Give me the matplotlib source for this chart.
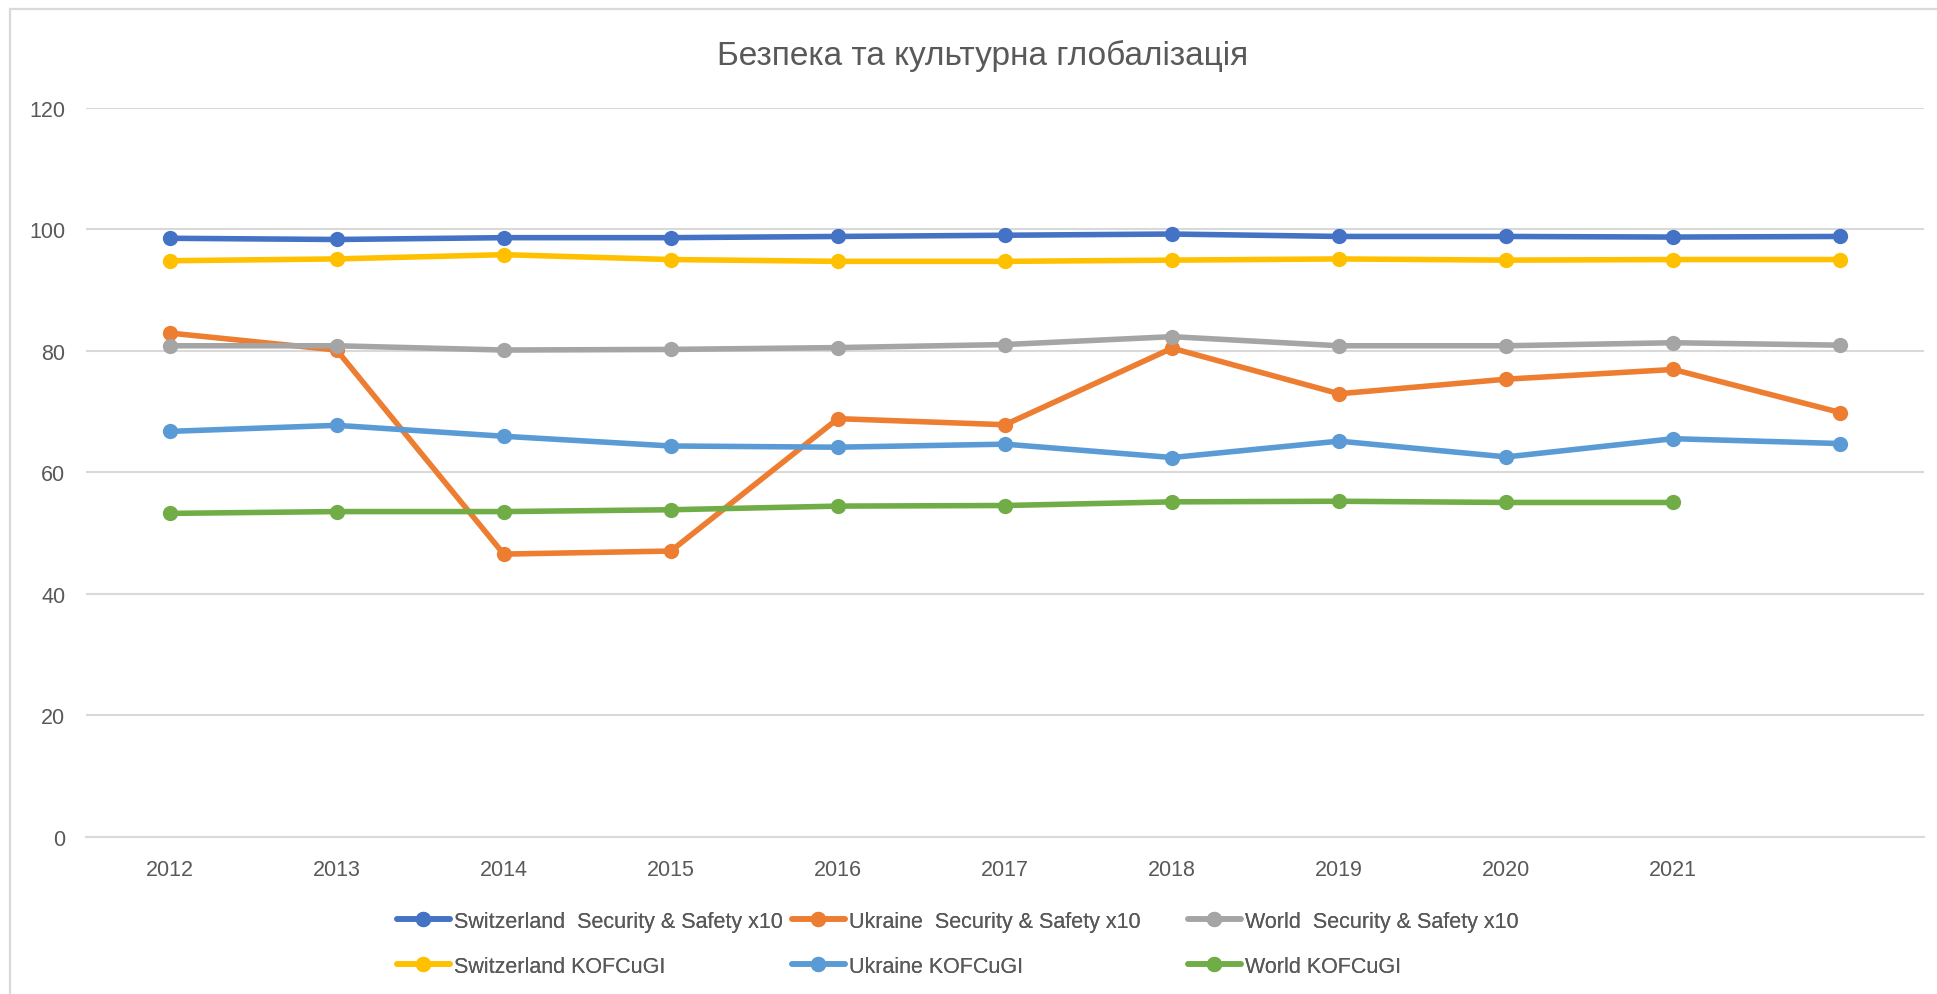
import numpy as np
import matplotlib
matplotlib.use("Agg")
import matplotlib.pyplot as plt
from matplotlib.patches import Rectangle

plt.rcParams['font.family'] = ['Liberation Sans', 'DejaVu Sans']

title = "Безпека та культурна глобалізація"
categories = ['2012', '2013', '2014', '2015', '2016', '2017', '2018', '2019', '2020', '2021', '']

sw_security = [98.5, 98.3, 98.6, 98.6, 98.8, 99.0, 99.2, 98.8, 98.8, 98.7, 98.8]
ua_security = [82.9, 80.1, 46.5, 47.0, 68.8, 67.8, 80.4, 72.9, 75.3, 76.9, 69.8]
wo_security = [80.8, 80.8, 80.1, 80.2, 80.5, 81.0, 82.3, 80.8, 80.8, 81.3, 80.9]
sw_kof = [94.8, 95.1, 95.8, 95.0, 94.7, 94.7, 94.9, 95.1, 94.9, 95.0, 95.0]
ua_kof = [66.7, 67.7, 65.9, 64.3, 64.1, 64.6, 62.4, 65.1, 62.5, 65.5, 64.7]
wo_kof = [53.2, 53.5, 53.5, 53.8, 54.4, 54.5, 55.1, 55.2, 55.0, 55.0, np.nan]

series = [
    ("Switzerland  Security & Safety x10", sw_security, "#4472C4"),
    ("Ukraine  Security & Safety x10", ua_security, "#ED7D31"),
    ("World  Security & Safety x10", wo_security, "#A5A5A5"),
    ("Switzerland KOFCuGI", sw_kof, "#FFC000"),
    ("Ukraine KOFCuGI", ua_kof, "#5B9BD5"),
    ("World KOFCuGI", wo_kof, "#70AD47"),
]

fig = plt.figure(figsize=(19.37, 9.95), dpi=100)
fig.patch.set_facecolor('white')
# chart border
fig.add_artist(Rectangle((10 / 1937, -0.05), 1.2, 1 - 10 / 995 + 0.05,
                         transform=fig.transFigure, fill=False,
                         edgecolor='#D9D9D9', linewidth=1.6, zorder=0))

ax = fig.add_axes([86 / 1937, 1 - 837.5 / 995, (1924 - 86) / 1937, (837.5 - 108.7) / 995])
x = np.arange(len(categories))
handles = []
for label, vals, color in series:
    h, = ax.plot(x, vals, color=color, lw=4.0, marker='o', markersize=11,
                 markeredgewidth=0, label=label, solid_capstyle='round')
    handles.append(h)

ax.set_xlim(-0.5, len(categories) - 0.5)
ax.set_ylim(0, 120)
ax.set_yticks(np.arange(0, 121, 20))
ax.set_xticks(x)
ax.set_xticklabels(categories)
for s in ['top', 'right', 'left']:
    ax.spines[s].set_visible(False)
ax.spines['bottom'].set_color('#D9D9D9')
ax.spines['bottom'].set_linewidth(1.5)
ax.yaxis.grid(True, color='#D9D9D9', linewidth=1.5)
ax.set_axisbelow(True)
ax.tick_params(axis='both', length=0, labelsize=15.5, labelcolor='#595959')
ax.tick_params(axis='y', pad=15)
ax.tick_params(axis='x', pad=16)

fig.text(983 / 1937, 1 - 56 / 995, title, ha='center', va='center',
         fontsize=24, color='#595959')

col_x = [397, 792, 1188]
for i in range(3):
    hs = [handles[i], handles[i + 3]]
    leg = fig.legend(handles=hs, labels=[h.get_label() for h in hs],
                     loc='upper left', bbox_to_anchor=(col_x[i] / 1937, 1 - 912 / 995),
                     frameon=False, fontsize=15.5, handlelength=2.45, handletextpad=0.2,
                     labelspacing=1.1, borderaxespad=0, borderpad=0)
    for t in leg.get_texts():
        t.set_color('#595959')
    fig.add_artist(leg)

fig.savefig("out.png", dpi=100, facecolor='white')
